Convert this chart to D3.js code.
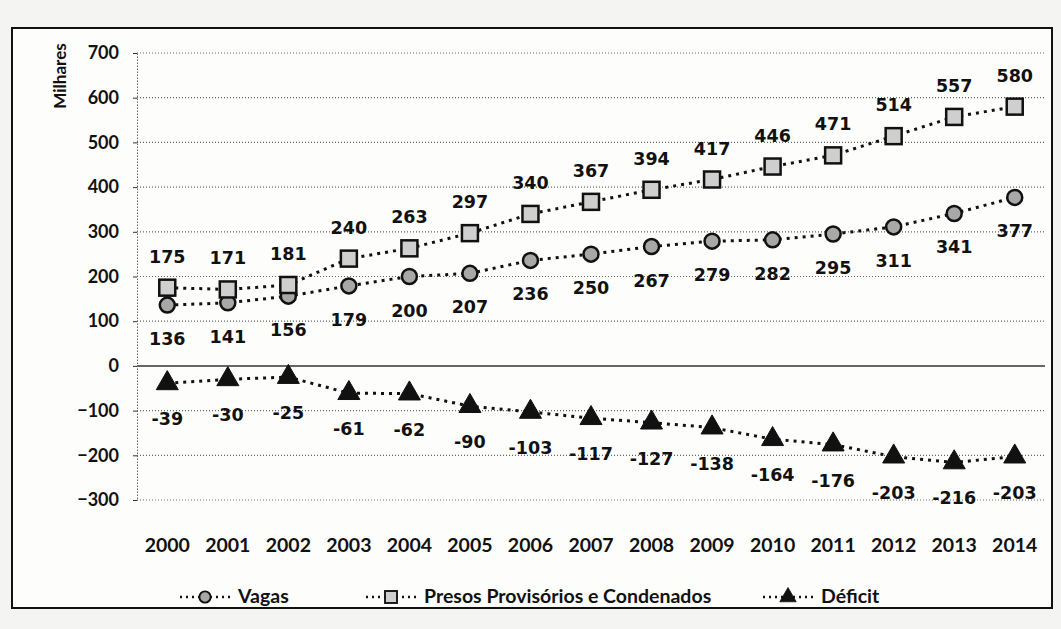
<!DOCTYPE html>
<html>
<head>
<meta charset="utf-8">
<script src="https://cdn.jsdelivr.net/npm/d3@7"></script>
<style>
  body { margin: 0; background: #f4f4f2; }
  svg { display: block; }
</style>
</head>
<body>
<div id="chart"></div>
<script>
// Data
const years = ["2000","2001","2002","2003","2004","2005","2006","2007","2008","2009","2010","2011","2012","2013","2014"];
const vagas = [136, 141, 156, 179, 200, 207, 236, 250, 267, 279, 282, 295, 311, 341, 377];
const presos = [175, 171, 181, 240, 263, 297, 340, 367, 394, 417, 446, 471, 514, 557, 580];
const deficit = [-39, -30, -25, -61, -62, -90, -103, -117, -127, -138, -164, -176, -203, -216, -203];
const yTicks = [700, 600, 500, 400, 300, 200, 100, 0, -100, -200, -300];

const W = 1061, H = 629;
const margin = { left: 137, right: 16, top: 53, bottom: 129 };
const axisFont = "Lato, 'Open Sans', sans-serif";
const labelFont = "'DejaVu Sans', Verdana, sans-serif";

const svg = d3.select("#chart").append("svg")
    .attr("width", W)
    .attr("height", H);

svg.append("rect")
    .attr("x", 0).attr("y", 0).attr("width", W).attr("height", H)
    .attr("fill", "#f4f4f2");

// Outer frame
svg.append("rect")
    .attr("x", 12).attr("y", 28)
    .attr("width", 1040).attr("height", 580)
    .attr("fill", "#fdfdfc")
    .attr("stroke", "#111")
    .attr("stroke-width", 2);

const x = d3.scalePoint()
    .domain(years)
    .range([margin.left, W - margin.right])
    .padding(0.5);

const y = d3.scaleLinear()
    .domain([-300, 700])
    .range([H - margin.bottom, margin.top]);

// Gridlines
svg.append("g")
    .selectAll("line")
    .data(yTicks.filter(d => d !== 0))
    .join("line")
    .attr("x1", margin.left)
    .attr("x2", W - margin.right)
    .attr("y1", d => y(d))
    .attr("y2", d => y(d))
    .attr("stroke", "#666")
    .attr("stroke-width", 1.2)
    .attr("stroke-dasharray", "1,2");

// Zero line
svg.append("line")
    .attr("x1", margin.left).attr("x2", W - margin.right)
    .attr("y1", y(0)).attr("y2", y(0))
    .attr("stroke", "#333").attr("stroke-width", 1.5);

// Y axis
const yAxis = svg.append("g")
    .attr("transform", `translate(${margin.left},0)`)
    .call(d3.axisLeft(y).tickValues(yTicks).tickSize(4).tickPadding(14));
yAxis.select(".domain").attr("stroke", "#666").attr("stroke-dasharray", "1.5,1.5");
yAxis.selectAll(".tick line").attr("stroke", "#333");
yAxis.selectAll("text")
    .attr("font-family", axisFont)
    .attr("font-weight", "bold")
    .attr("font-size", 18)
    .attr("fill", "#111");

svg.append("text")
    .attr("transform", `translate(66,76) rotate(-90)`)
    .attr("text-anchor", "middle")
    .attr("font-family", axisFont)
    .attr("font-weight", "bold")
    .attr("font-size", 17)
    .attr("fill", "#111")
    .text("Milhares");

// X labels
svg.append("g")
    .selectAll("text")
    .data(years)
    .join("text")
    .attr("x", d => x(d))
    .attr("y", 552)
    .attr("text-anchor", "middle")
    .attr("font-family", axisFont)
    .attr("font-weight", "bold")
    .attr("font-size", 19.5)
    .attr("fill", "#111")
    .text(d => d);

// Series
const series = [
    { name: "Vagas", values: vagas, marker: "circle", labelDy: 40 },
    { name: "Presos Provisórios e Condenados", values: presos, marker: "square", labelDy: -25 },
    { name: "Déficit", values: deficit, marker: "triangle", labelDy: 42 }
];

const line = d3.line()
    .x((d, i) => x(years[i]))
    .y(d => y(d));

function drawMarker(g, type) {
    if (type === "circle") {
        g.append("circle").attr("r", 7.5)
            .attr("fill", "#a8a8a8").attr("stroke", "#111").attr("stroke-width", 2.5);
    } else if (type === "square") {
        g.append("rect").attr("x", -8).attr("y", -8).attr("width", 16).attr("height", 16)
            .attr("fill", "#cfcfcf").attr("stroke", "#111").attr("stroke-width", 2.5);
    } else {
        g.append("path").attr("d", d3.symbol(d3.symbolTriangle, 210)())
            .attr("fill", "#111").attr("stroke", "#111").attr("stroke-width", 1);
    }
}

series.forEach(s => {
    svg.append("path")
        .datum(s.values)
        .attr("d", line)
        .attr("fill", "none")
        .attr("stroke", "#111")
        .attr("stroke-width", 3)
        .attr("stroke-dasharray", "3,5");
});

series.forEach(s => {
    const pts = svg.append("g")
        .selectAll("g")
        .data(s.values)
        .join("g")
        .attr("transform", (d, i) => `translate(${x(years[i])},${y(d)})`);
    pts.each(function () { drawMarker(d3.select(this), s.marker); });

    svg.append("g")
        .selectAll("text")
        .data(s.values)
        .join("text")
        .attr("x", (d, i) => x(years[i]))
        .attr("y", d => y(d) + s.labelDy)
        .attr("text-anchor", "middle")
        .attr("font-family", labelFont)
        .attr("font-weight", "bold")
        .attr("font-size", 17.5)
        .attr("fill", "#111")
        .text(d => d);
});

// Legend
const legendItems = [
    { label: "Vagas", marker: "circle", x: 180 },
    { label: "Presos Provisórios e Condenados", marker: "square", x: 366 },
    { label: "Déficit", marker: "triangle", x: 763 }
];
const legend = svg.append("g").attr("transform", "translate(0,597)");
legendItems.forEach(item => {
    const g = legend.append("g").attr("transform", `translate(${item.x},0)`);
    g.append("line").attr("x1", 0).attr("x2", 50)
        .attr("stroke", "#111").attr("stroke-width", 2.5).attr("stroke-dasharray", "2,4");
    const m = g.append("g").attr("transform", "translate(25,0) scale(0.75)");
    drawMarker(m, item.marker);
    g.append("text")
        .attr("x", 58).attr("y", 6)
        .attr("font-family", axisFont)
        .attr("font-weight", "bold")
        .attr("font-size", 19.5)
        .attr("fill", "#111")
        .text(item.label);
});
</script>
</body>
</html>
